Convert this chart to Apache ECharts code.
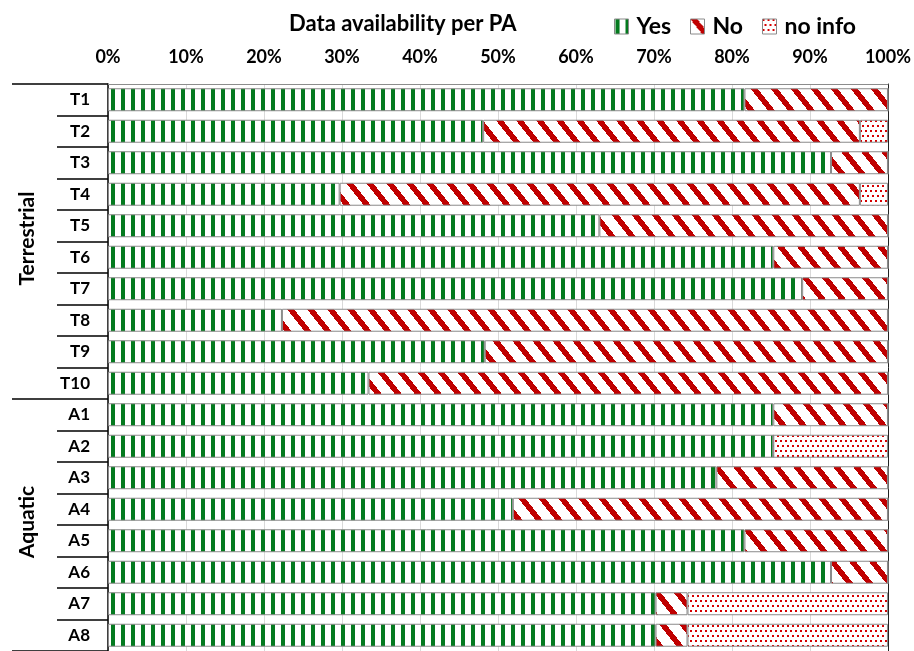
<!DOCTYPE html>
<html><head><meta charset="utf-8">
<script src="https://cdn.jsdelivr.net/npm/echarts@6/dist/echarts.min.js"></script>
<style>html,body{margin:0;padding:0;background:#fff}#c{width:914px;height:651px}</style>
</head><body><div id="c"></div>
<script>
const categories = ['T1','T2','T3','T4','T5','T6','T7','T8','T9','T10','A1','A2','A3','A4','A5','A6','A7','A8'];
const yesValues    = [81.6, 48.1, 92.7, 29.7, 63.0, 85.3, 89.0, 22.3, 48.3, 33.4, 85.3, 85.3, 78.0, 51.9, 81.6, 92.7, 70.2, 70.2];
const noValues     = [18.4, 48.3,  7.3, 66.7, 37.0, 14.7, 11.0, 77.7, 51.7, 66.6, 14.7,  0.0, 22.0, 48.1, 18.4,  7.3,  4.1,  4.1];
const noInfoValues = [ 0.0,  3.6,  0.0,  3.6,  0.0,  0.0,  0.0,  0.0,  0.0,  0.0,  0.0, 14.7,  0.0,  0.0,  0.0,  0.0, 25.7, 25.7];
const seriesNames = ['Yes', 'No', 'no info'];
const groupNames = ['Terrestrial', 'Aquatic'];
const groupFirst = ['T1', 'A1'];
const groupLast = ['T10', 'A8'];
const titleText = 'Data availability per PA';

const FONT = 'Lato';
const legendLefts = [609, 685, 757];

function tile(w, h, draw) {
  const c = document.createElement('canvas');
  c.width = w; c.height = h;
  const g = c.getContext('2d');
  g.fillStyle = '#fff'; g.fillRect(0, 0, w, h);
  draw(g, w, h);
  return c;
}
const yesPat = tile(10, 10, (g) => { g.fillStyle = '#047a1f'; g.fillRect(1, 0, 4, 10); });
const noPat = tile(20, 25, (g, w, h) => {
  g.fillStyle = '#c00000';
  const th = 7;
  for (let y = 0; y < h; y++) {
    const x0 = Math.round(y * w / h);
    for (let k = 0; k < th; k++) g.fillRect((x0 + k) % w, y, 1, 1);
  }
});
const infoPat = tile(10, 10, (g) => {
  g.fillStyle = '#d60000';
  [[0,0],[5,0],[2,5],[7,5]].forEach(p => g.fillRect(p[0], p[1], 2, 2));
});
const pats = [yesPat, noPat, infoPat];
const vals = [yesValues, noValues, noInfoValues];

const chart = echarts.init(document.getElementById('c'), null, {renderer: 'canvas'});
const option = {
  animation: false,
  textStyle: {fontFamily: FONT},
  title: {
    text: titleText, left: 284, top: 8,
    textStyle: {fontFamily: FONT, fontWeight: 'bold', fontSize: 22, color: '#000'}
  },
  legend: seriesNames.map((name, i) => ({
    left: legendLefts[i], top: 10, itemWidth: 14, itemHeight: 15,
    icon: 'rect', selectedMode: false,
    itemStyle: {borderColor: '#8a8a8a', borderWidth: 1},
    textStyle: {fontFamily: FONT, fontWeight: 'bold', fontSize: 23, color: '#000', padding: [0, 0, 0, 3]},
    data: [name]
  })),
  grid: {left: 108, right: 24, top: 84, bottom: -1, containLabel: false},
  xAxis: {
    type: 'value', position: 'top', min: 0, max: 100, interval: 10,
    axisLine: {show: true, lineStyle: {color: '#8c8c8c', width: 1}},
    axisTick: {show: false},
    axisLabel: {formatter: '{value}%', fontFamily: FONT, fontWeight: 'bold', fontSize: 18, color: '#000', margin: 18},
    splitLine: {show: true, lineStyle: {color: '#d9d9d9', width: 1}}
  },
  yAxis: [
    {
      type: 'category', data: categories, inverse: true,
      axisLine: {show: true, lineStyle: {color: '#000', width: 1.5}},
      axisTick: {show: true, length: 51, lineStyle: {color: '#000', width: 1.5}},
      axisLabel: {fontFamily: FONT, fontWeight: 'bold', fontSize: 17, color: '#000', margin: 18}
    },
    {
      type: 'category', data: categories, inverse: true, position: 'left',
      axisLine: {show: false},
      axisTick: {show: true, length: 96, lineStyle: {color: '#000', width: 1.5},
        interval: (i, v) => groupFirst.indexOf(v) >= 0},
      axisLabel: {show: false}
    },
    {
      type: 'category', data: categories, inverse: true, position: 'right',
      axisLine: {show: true, lineStyle: {color: '#222', width: 1}},
      axisTick: {show: false}, axisLabel: {show: false}
    }
  ],
  series: seriesNames.map((name, i) => ({
    name, type: 'bar', stack: 'total', barCategoryGap: '27%',
    yAxisIndex: 0,
    itemStyle: {color: {image: pats[i], repeat: 'repeat'}, borderColor: '#8a8a8a', borderWidth: 1},
    data: vals[i]
  }))
};
chart.setOption(option);

const gfx = groupNames.map((name, gi) => {
  const y1 = chart.convertToPixel({yAxisIndex: 0}, groupFirst[gi]);
  const y2 = chart.convertToPixel({yAxisIndex: 0}, groupLast[gi]);
  return {
    type: 'text', x: 27, y: (y1 + y2) / 2 - 3, rotation: Math.PI / 2,
    style: {text: name, fontFamily: FONT, fontWeight: 'bold', fontSize: 21, fill: '#000', align: 'center', verticalAlign: 'middle'}
  };
});
chart.setOption({graphic: gfx});
</script></body></html>
